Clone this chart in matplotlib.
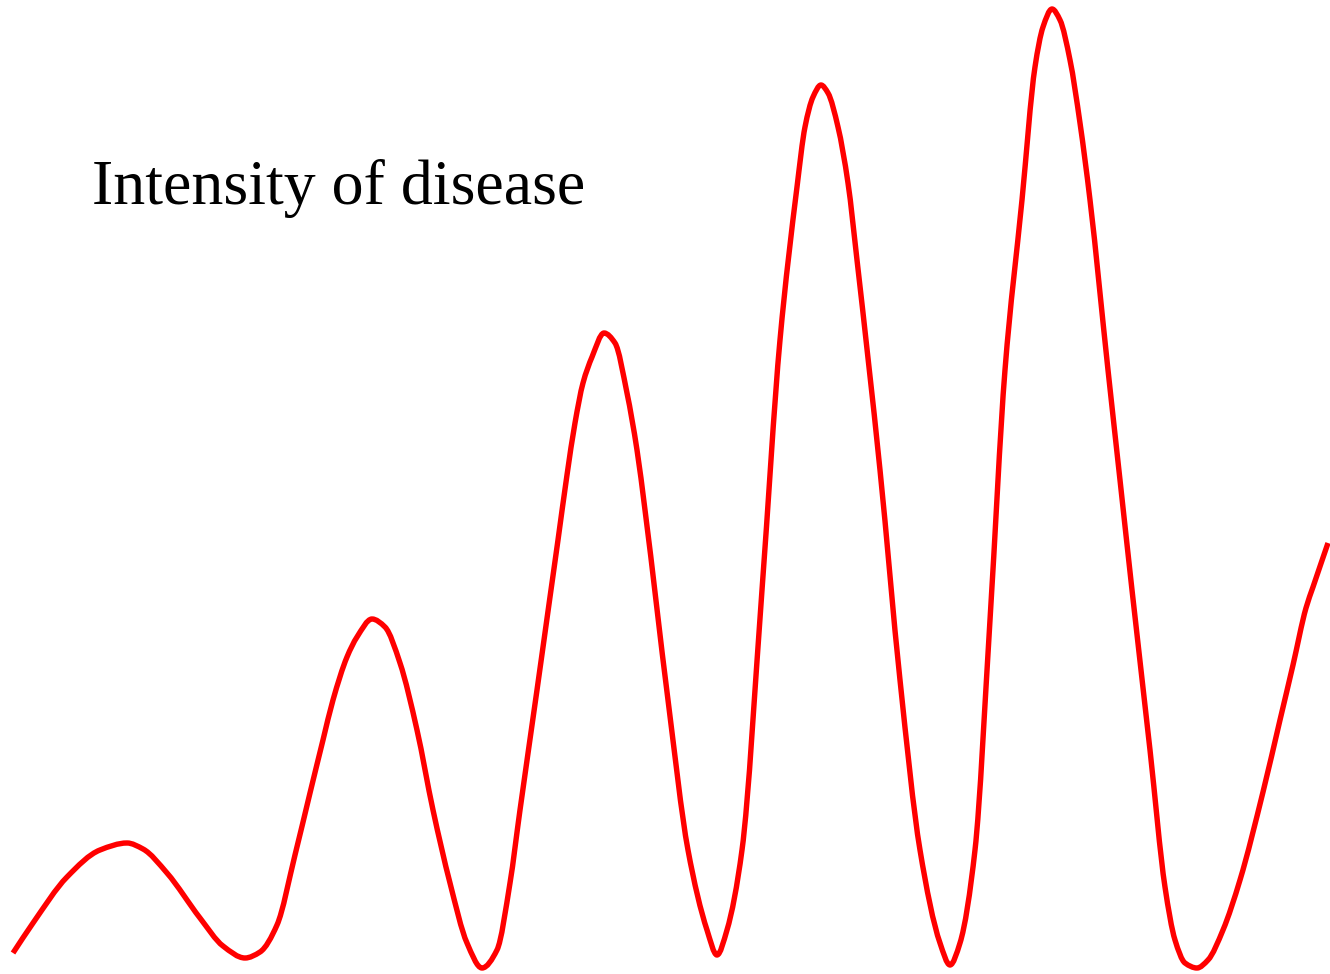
import matplotlib
matplotlib.use("Agg")
import numpy as np
import matplotlib.pyplot as plt
from matplotlib.path import Path
from matplotlib.patches import PathPatch

# points (x to the right, y downwards, in pixels)
curve_x = [13, 33, 67, 100, 127, 143, 167, 200, 223, 245, 260, 277, 295, 310, 323, 333, 347,
           357, 372, 385, 400, 417, 433, 450, 467, 482, 497, 510, 520, 537, 550, 558, 567,
           575, 583, 592, 604, 615, 627, 637, 645, 668, 688, 707, 717, 727, 742, 762, 780,
           797, 805, 813, 821, 828, 838, 848, 857, 880, 900, 920, 940, 950, 960, 975, 990,
           1005, 1022, 1035, 1043, 1052, 1060, 1070, 1080, 1090, 1108, 1120, 1132, 1150,
           1165, 1175, 1185, 1197, 1208, 1223, 1240, 1263, 1280, 1293, 1306, 1313, 1328]
curve_y = [953, 923, 877, 850, 843, 849, 873, 918, 946, 958, 952, 925, 855, 793, 740, 700, 657,
           637, 619, 627, 663, 730, 810, 883, 943, 968, 950, 883, 810, 690, 597, 540, 475,
           423, 383, 357, 333, 343, 393, 450, 510, 700, 850, 930, 955, 930, 850, 590, 340,
           187, 127, 97, 85, 93, 127, 183, 260, 470, 680, 850, 943, 965, 943, 850, 620,
           370, 200, 67, 27, 9, 20, 60, 123, 200, 370, 480, 590, 750,
           887, 940, 963, 968, 960, 930, 880, 792, 720, 665, 608, 587, 543]

label = "Intensity of disease"


def smooth_path(xs, ys):
    # monotone cubic (pchip) slopes, drawn as bezier segments through every point
    x = np.asarray(xs, float)
    y = np.asarray(ys, float)
    h = np.diff(x)
    d = np.diff(y) / h
    m = np.zeros_like(x)
    m[0], m[-1] = d[0], d[-1]
    for k in range(1, len(x) - 1):
        if d[k - 1] * d[k] > 0:
            w1 = 2 * h[k] + h[k - 1]
            w2 = h[k] + 2 * h[k - 1]
            m[k] = (w1 + w2) / (w1 / d[k - 1] + w2 / d[k])
    verts = [(x[0], y[0])]
    codes = [Path.MOVETO]
    for k in range(len(x) - 1):
        verts += [(x[k] + h[k] / 3, y[k] + m[k] * h[k] / 3),
                  (x[k + 1] - h[k] / 3, y[k + 1] - m[k + 1] * h[k] / 3),
                  (x[k + 1], y[k + 1])]
        codes += [Path.CURVE4] * 3
    return Path(verts, codes)


fig = plt.figure(figsize=(13.3, 9.74), dpi=100)
ax = fig.add_axes([0, 0, 1, 1])
ax.add_patch(PathPatch(smooth_path(curve_x, curve_y), facecolor="none",
                       edgecolor="red", linewidth=3.9, joinstyle="round"))
ax.text(92, 204, label, fontsize=46, family=["Liberation Serif", "DejaVu Serif"],
        ha="left", va="baseline", color="black")
ax.set_xlim(0, 1330)
ax.set_ylim(974, 0)
ax.axis("off")

fig.savefig("out.png", dpi=100)
